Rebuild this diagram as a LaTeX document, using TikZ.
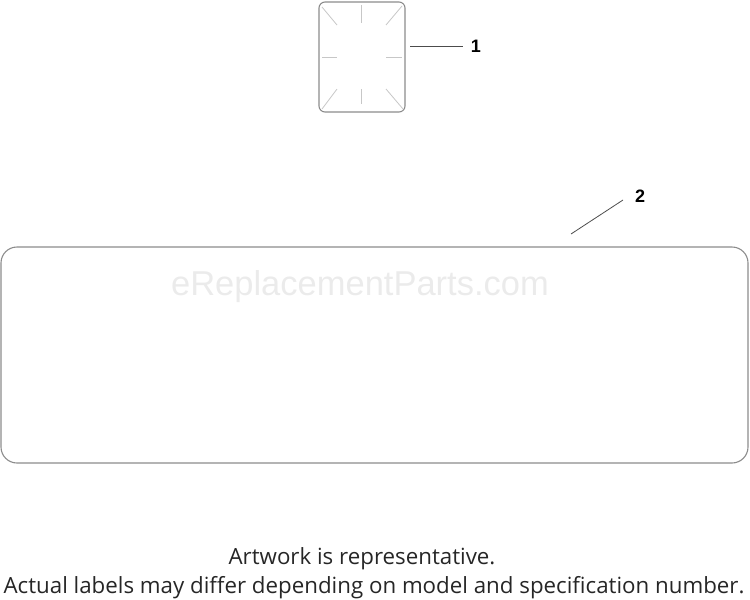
\documentclass[tikz,border=0pt]{standalone}
\usepackage{fontspec}
\setmainfont{Open Sans}
\newfontfamily\numfont{Liberation Sans}
\begin{document}
\begin{tikzpicture}[x=1pt,y=-1pt,
  outline/.style={draw=black!45,line width=1.1pt,rounded corners=6pt},
  tick/.style={draw=black!22,line width=0.8pt},
  leader/.style={draw=black!70,line width=0.8pt},
  num/.style={font=\numfont\bfseries\fontsize{18}{18}\selectfont,inner sep=0pt},
  note/.style={font=\fontsize{22.3}{24}\selectfont,inner sep=0pt,text=black!85,anchor=base}]
\useasboundingbox (0,0) rectangle (750,600);
% label 1
\draw[outline] (319,2) rectangle (405,112);
\draw[tick] (361,5) -- (361,23);
\draw[tick] (361,89) -- (361,104);
\draw[tick] (322,57) -- (337,57);
\draw[tick] (386,57) -- (402,57);
\draw[tick] (322,7) -- (337,25);
\draw[tick] (402,6) -- (386,25);
\draw[tick] (337,89) -- (322,109);
\draw[tick] (386,89) -- (403,109);
\coordinate (l1a) at (410,46);
\node[num] (n1) at (476,46) {1};
\draw[leader] (l1a) -- (463,46);
% label 2
\draw[draw=black!45,line width=1.1pt,rounded corners=16pt] (1,247) rectangle (748,463);
\coordinate (l2a) at (571,234);
\node[num] (n2) at (640,196) {2};
\draw[leader] (l2a) -- (623,200);
% watermark
\node[font=\numfont\fontsize{34.5}{36}\selectfont,text=black!8,inner sep=0pt] (wm) at (360,287) {eReplacementParts.com};
% notes
\node[note] (t1) at (362,564) {Artwork is representative.};
\node[note] (t2) at (374,593) {Actual labels may differ depending on model and specification number.};
\end{tikzpicture}
\end{document}
